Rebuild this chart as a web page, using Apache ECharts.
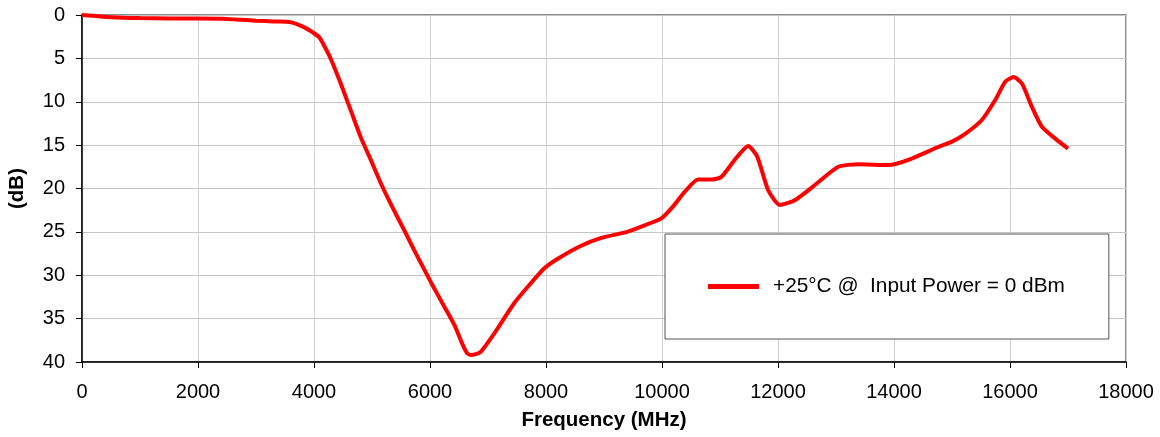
<!DOCTYPE html>
<html>
<head>
<meta charset="utf-8">
<script src="https://cdn.jsdelivr.net/npm/echarts@6/dist/echarts.min.js"></script>
<style>
html,body{margin:0;padding:0;background:#fff;}
#chart{width:1160px;height:437px;}
</style>
</head>
<body>
<div id="chart"></div>
<script>
const seriesName = '+25°C @  Input Power = 0 dBm';
const freqMHz = [0, 200, 500, 1000, 1500, 2000, 2500, 3000, 3300, 3599, 3827, 4000, 4087, 4180, 4288, 4461, 4634, 4806, 4979, 5152, 5340, 5555, 5727, 6015, 6245, 6418, 6563, 6640, 6706, 6790, 6879, 7109, 7454, 7742, 7972, 8203, 8606, 8955, 9400, 9642, 9988, 10200, 10390, 10621, 10851, 11024, 11254, 11485, 11640, 11831, 12032, 12290, 12636, 13040, 13385, 13903, 14249, 14767, 15000, 15227, 15515, 15745, 15918, 16062, 16206, 16378, 16551, 16781, 17000];
const lossDb = [0, 0.1, 0.25, 0.35, 0.4, 0.4, 0.45, 0.65, 0.75, 0.83, 1.4, 2.1, 2.55, 3.6, 5.04, 7.9, 11.0, 14.1, 16.7, 19.4, 22.0, 24.8, 27.1, 30.8, 33.6, 35.7, 38.0, 39.0, 39.2, 39.1, 38.8, 36.7, 33.2, 30.9, 29.2, 28.1, 26.6, 25.7, 25.0, 24.4, 23.45, 22.0, 20.4, 18.97, 18.97, 18.66, 16.7, 15.1, 16.3, 20.2, 21.9, 21.35, 19.6, 17.5, 17.2, 17.3, 16.7, 15.2, 14.6, 13.7, 12.1, 9.8, 7.7, 7.15, 7.9, 10.6, 12.9, 14.25, 15.4];
const xTicks = {min: 0, max: 18000, step: 2000};
const yTicks = {min: 0, max: 40, step: 5};

const chart = echarts.init(document.getElementById('chart'));
const font = 'Liberation Sans, Arial, sans-serif';
chart.setOption({
  animation: false,
  backgroundColor: '#fff',
  textStyle: {fontFamily: font},
  grid: {left: 82, right: 34, top: 15, bottom: 75, containLabel: false, outerBoundsMode: 'none', show: true, borderColor: '#8a8a8a', borderWidth: 2, backgroundColor: 'transparent'},
  legend: {
    left: 665, top: 234,
    padding: [42, 44, 42, 43],
    backgroundColor: '#fff',
    borderColor: '#555',
    borderWidth: 1,
    borderRadius: 0,
    itemWidth: 51, itemHeight: 5,
    itemGap: 15,
    icon: 'rect',
    textStyle: {fontFamily: font, fontSize: 20.8, color: '#000', padding: [0, 0, 0, 9]},
    data: [seriesName]
  },
  xAxis: {
    type: 'value',
    min: xTicks.min, max: xTicks.max, interval: xTicks.step,
    name: 'Frequency (MHz)', nameLocation: 'middle', nameGap: 48,
    nameTextStyle: {fontFamily: font, fontSize: 20.5, fontWeight: 'bold', color: '#000'},
    axisLine: {show: true, onZero: false, lineStyle: {color: '#000', width: 1.5}},
    axisTick: {show: true, length: 6, lineStyle: {color: '#000', width: 1}},
    axisLabel: {fontFamily: font, fontSize: 20, color: '#000', margin: 20, formatter: v => String(v)},
    splitLine: {show: true, lineStyle: {color: '#d4d4d4', width: 1}}
  },
  yAxis: {
    type: 'value', inverse: true,
    min: yTicks.min, max: yTicks.max, interval: yTicks.step,
    name: '(dB)', nameLocation: 'middle', nameGap: 54,
    nameTextStyle: {fontFamily: font, fontSize: 20.5, fontWeight: 'bold', color: '#000'},
    axisLine: {show: true, onZero: false, lineStyle: {color: '#000', width: 1.5}},
    axisTick: {show: true, length: 6, lineStyle: {color: '#000', width: 1}},
    axisLabel: {fontFamily: font, fontSize: 20, color: '#000', margin: 17, formatter: v => String(v)},
    splitLine: {show: true, lineStyle: {color: '#c4c4c4', width: 1}}
  },
  series: [{
    name: seriesName,
    type: 'line',
    data: freqMHz.map((f, i) => [f, lossDb[i]]),
    smooth: 0.2,
    showSymbol: false,
    symbol: 'none',
    color: '#ff0000',
    lineStyle: {color: '#ff0000', width: 4}
  }]
});
</script>
</body>
</html>
